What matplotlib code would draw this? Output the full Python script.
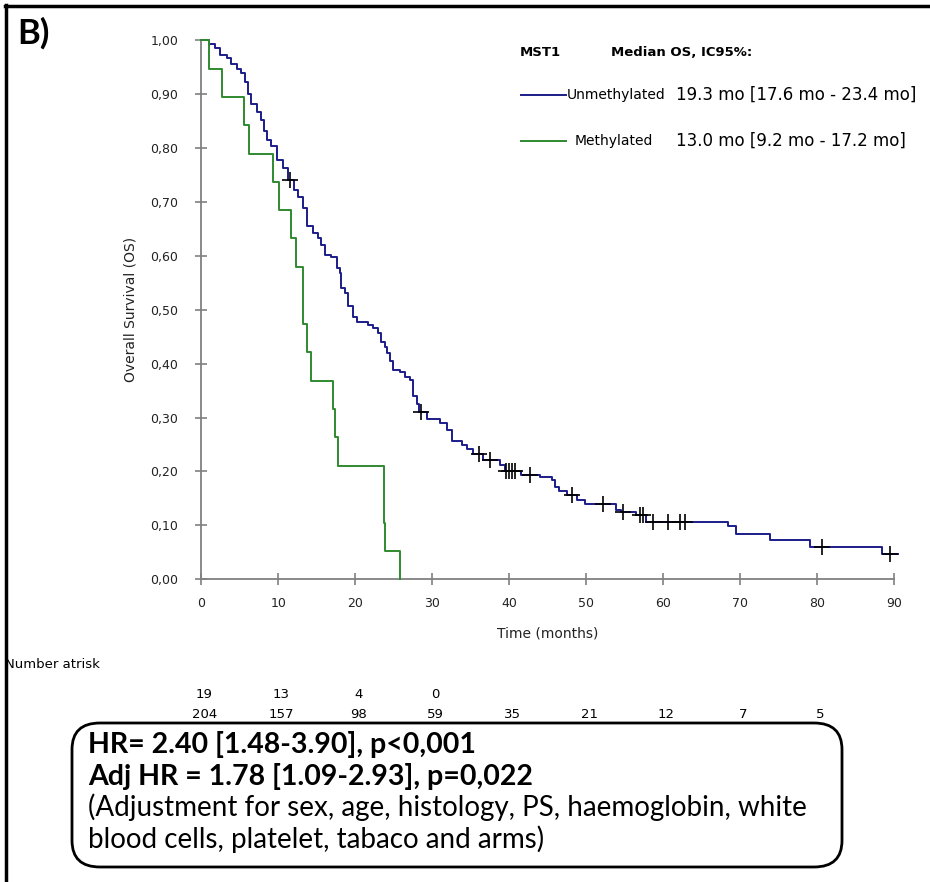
import numpy as np
import matplotlib
matplotlib.use("Agg")
import matplotlib.pyplot as plt
from matplotlib.lines import Line2D
from matplotlib.patches import FancyBboxPatch

# Kaplan-Meier steps: time (months) -> survival after the drop
unmeth_t = [0, 1.0, 1.8, 2.4, 3.3, 3.9, 4.6, 5.2, 5.7, 6.1, 6.5, 7.2, 7.8, 8.2, 8.5,
            9.1, 9.8, 10.6, 11.2, 12.0, 12.6, 13.2, 13.7, 14.5, 15.1, 15.6, 16.1,
            16.9, 17.6, 18.0, 18.2, 18.7, 19.1, 19.7, 20.2, 21.7, 22.3, 23.0, 23.4,
            23.8, 24.1, 24.5, 24.9, 25.8, 26.5, 27.1, 27.5, 28.0, 28.3, 29.3, 31.0,
            31.9, 32.5, 33.8, 34.5, 35.3, 36.6, 38.8, 39.4, 41.5, 44.0, 45.5, 45.9,
            46.4, 47.5, 48.8, 49.8, 53.9, 54.5, 56.5, 57.8, 68.4, 69.5, 73.9, 79.0,
            88.4, 90.5]
unmeth_s = [1.0, 0.993, 0.985, 0.973, 0.966, 0.956, 0.946, 0.939, 0.922, 0.900,
            0.882, 0.866, 0.852, 0.832, 0.815, 0.803, 0.778, 0.763, 0.740, 0.722,
            0.708, 0.688, 0.655, 0.642, 0.632, 0.620, 0.602, 0.597, 0.577, 0.568,
            0.540, 0.531, 0.506, 0.486, 0.478, 0.472, 0.466, 0.456, 0.440, 0.430,
            0.419, 0.404, 0.388, 0.384, 0.376, 0.370, 0.339, 0.325, 0.311, 0.298,
            0.289, 0.277, 0.256, 0.249, 0.241, 0.233, 0.222, 0.212, 0.200, 0.194,
            0.189, 0.184, 0.172, 0.163, 0.156, 0.147, 0.139, 0.129, 0.124, 0.119,
            0.107, 0.098, 0.084, 0.073, 0.059, 0.046, 0.046]
unmeth_cens = [11.5, 28.5, 36.0, 37.5, 39.6, 40.0, 40.4, 40.8, 42.7, 48.1, 52.2,
               54.8, 57.0, 57.4, 58.7, 60.6, 62.2, 62.8, 80.6, 89.4]

meth_t = [0, 1.0, 2.7, 5.55, 6.15, 9.35, 10.1, 11.6, 12.3, 13.2, 13.7, 14.2,
          17.1, 17.4, 17.7, 23.7, 23.9, 25.8]
meth_s = [1.0, 0.947, 0.895, 0.842, 0.789, 0.737, 0.684, 0.632, 0.579, 0.474,
          0.421, 0.368, 0.316, 0.263, 0.211, 0.105, 0.053, 0.0]

risk_times = [0, 10, 20, 30, 40, 50, 60, 70, 80]
risk_meth = [19, 13, 4, 0]
risk_unmeth = [204, 157, 98, 59, 35, 21, 12, 7, 5]

BLUE = "#1c1c8a"
GREEN = "#2f8a2f"
GREY = "#808080"
W, H = 930, 882


def fx(px):
    return px / W


def fy(py):
    return 1 - py / H


fig = plt.figure(figsize=(9.3, 8.82), dpi=100)
ax = fig.add_axes([fx(201.3), fy(579.3), (894.3 - 201.3) / W, (579.3 - 40) / H])

ax.step(unmeth_t, unmeth_s, where="post", color=BLUE, lw=1.4, clip_on=False, zorder=3)
ax.step(meth_t, meth_s, where="post", color=GREEN, lw=1.4, clip_on=False, zorder=3)

# censor marks sit on the step curve
idx = np.searchsorted(unmeth_t, unmeth_cens, side="right") - 1
cens_y = np.array(unmeth_s)[idx]
ax.plot(unmeth_cens, cens_y, "+", color="black", ms=11, mew=1.2, clip_on=False, zorder=4)

ax.set_xlim(0, 90)
ax.set_ylim(0, 1)
ax.set_xticks(np.arange(0, 91, 10))
yt = np.arange(0, 1.01, 0.1)
ax.set_yticks(yt)
ax.set_yticklabels([f"{v:.2f}".replace(".", ",") for v in yt])
for s in ["top", "right"]:
    ax.spines[s].set_visible(False)
for s in ["left", "bottom"]:
    ax.spines[s].set_color(GREY)
    ax.spines[s].set_linewidth(1.3)
ax.tick_params(direction="inout", length=9, width=1.2, color=GREY,
               labelsize=9, labelcolor="#222222")
ax.tick_params(axis="y", pad=12)
ax.tick_params(axis="x", pad=8)
ax.set_xlabel("Time (months)", fontsize=10, color="#222222", labelpad=12)
ax.set_ylabel("Overall Survival (OS)", fontsize=10, color="#222222", labelpad=9)

# legend block
fig.text(fx(540), fy(52), "MST1", fontsize=9.5, fontweight="bold", ha="center", va="center")
fig.text(fx(611), fy(52), "Median OS, IC95%:", fontsize=9.5, fontweight="bold", ha="left", va="center")
fig.add_artist(Line2D([fx(521), fx(566)], [fy(95), fy(95)], color=BLUE, lw=1.4))
fig.add_artist(Line2D([fx(521), fx(566)], [fy(141), fy(141)], color=GREEN, lw=1.4))
fig.text(fx(567), fy(95), "Unmethylated", fontsize=10, ha="left", va="center")
fig.text(fx(575), fy(141), "Methylated", fontsize=10, ha="left", va="center")
fig.text(fx(676), fy(95), "19.3 mo [17.6 mo - 23.4 mo]", fontsize=12, ha="left", va="center")
fig.text(fx(676), fy(141), "13.0 mo [9.2 mo - 17.2 mo]", fontsize=12, ha="left", va="center")

fig.text(fx(17), fy(33), "B)", fontsize=25, fontweight="bold", family="Lato", ha="left", va="center")

# number at risk
fig.text(fx(5), fy(664), "Number atrisk", fontsize=9.5, ha="left", va="center")
for t, n in zip(risk_times, risk_meth):
    fig.text(fx(201.3 + t * 7.7 + 3), fy(695), str(n), fontsize=9.5, ha="center", va="center")
for t, n in zip(risk_times, risk_unmeth):
    fig.text(fx(201.3 + t * 7.7 + 3), fy(714), str(n), fontsize=9.5, ha="center", va="center")

# stats box
box = FancyBboxPatch((fx(72), fy(867)), fx(842) - fx(72), fy(723) - fy(867),
                     boxstyle="round,pad=0,rounding_size=0.03", transform=fig.transFigure,
                     fc="white", ec="black", lw=2)
fig.add_artist(box)
bx = fx(88)
box_font = "Lato"
fig.text(bx, fy(745), "HR= 2.40 [1.48-3.90], p<0,001", fontsize=20.5, fontweight="bold",
         family=box_font, ha="left", va="center")
fig.text(bx, fy(776), "Adj HR = 1.78 [1.09-2.93], p=0,022", fontsize=20.5, fontweight="bold",
         family=box_font, ha="left", va="center")
fig.text(bx, fy(807), "(Adjustment for sex, age, histology, PS, haemoglobin, white",
         fontsize=20, family=box_font, ha="left", va="center")
fig.text(bx, fy(839), "blood cells, platelet, tabaco and arms)",
         fontsize=20, family=box_font, ha="left", va="center")

# outer frame (top and left edges only)
fig.add_artist(Line2D([fx(5), 1], [fy(6), fy(6)], color="black", lw=2.5))
fig.add_artist(Line2D([fx(6), fx(6)], [fy(5), 0], color="black", lw=2.5))

fig.savefig("out.png", dpi=100)
